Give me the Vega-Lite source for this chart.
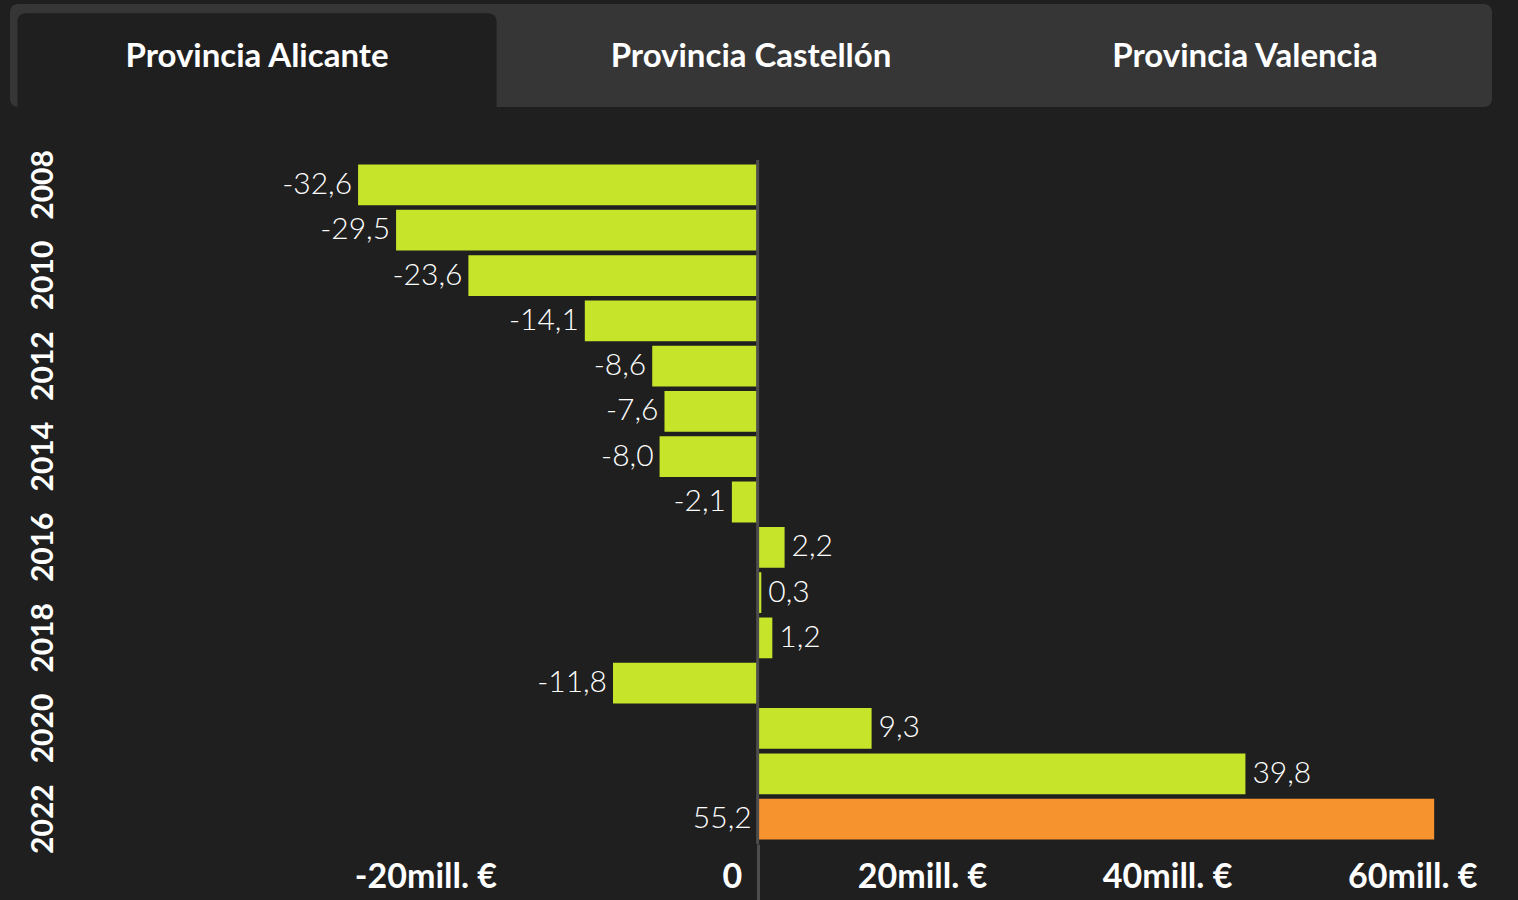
{
  "$schema": "https://vega.github.io/schema/vega-lite/v6.json",
  "background": "#1f1f1f",
  "padding": {"left": 10, "top": 4, "right": 25, "bottom": 0},
  "bounds": "flush",
  "spacing": 53,
  "config": {
    "view": {"stroke": null},
    "font": "Lato",
    "locale": {"number": {"decimal": ",", "thousands": ".", "grouping": [3], "currency": ["", " €"], "minus": "-"}}
  },
  "datasets": {
    "tabs": [
      {"tab": "Provincia Alicante", "selected": true},
      {"tab": "Provincia Castellón", "selected": false},
      {"tab": "Provincia Valencia", "selected": false}
    ],
    "saldo": [
      {"year": 2008, "value": -32.6, "highlight": false},
      {"year": 2009, "value": -29.5, "highlight": false},
      {"year": 2010, "value": -23.6, "highlight": false},
      {"year": 2011, "value": -14.1, "highlight": false},
      {"year": 2012, "value": -8.6, "highlight": false},
      {"year": 2013, "value": -7.6, "highlight": false},
      {"year": 2014, "value": -8.0, "highlight": false},
      {"year": 2015, "value": -2.1, "highlight": false},
      {"year": 2016, "value": 2.2, "highlight": false},
      {"year": 2017, "value": 0.3, "highlight": false},
      {"year": 2018, "value": 1.2, "highlight": false},
      {"year": 2019, "value": -11.8, "highlight": false},
      {"year": 2020, "value": 9.3, "highlight": false},
      {"year": 2021, "value": 39.8, "highlight": false},
      {"year": 2022, "value": 55.2, "highlight": true}
    ]
  },
  "vconcat": [
    {
      "width": 1482,
      "height": 103,
      "data": {"name": "tabs"},
      "view": {"fill": "#363636", "cornerRadius": 8, "stroke": null},
      "encoding": {
        "x": {"field": "tab", "type": "nominal", "sort": null, "scale": {"paddingInner": 0, "paddingOuter": 0}, "axis": null}
      },
      "layer": [
        {
          "transform": [{"filter": "datum.selected"}],
          "mark": {"type": "bar", "color": "#1f1f1f", "cornerRadiusTopLeft": 8, "cornerRadiusTopRight": 8, "width": {"band": 0.97}},
          "encoding": {
            "y": {"datum": 0, "type": "quantitative", "scale": {"domain": [0, 1], "nice": false}, "axis": null},
            "y2": {"datum": 0.91}
          }
        },
        {
          "mark": {"type": "text", "color": "white", "fontSize": 33, "fontWeight": "bold", "baseline": "middle", "dy": 1},
          "encoding": {"text": {"field": "tab"}}
        }
      ]
    },
    {
      "width": 1483,
      "height": 684,
      "data": {"name": "saldo"},
      "layer": [
        {
          "mark": {"type": "bar"},
          "encoding": {
            "y": {
              "field": "year", "type": "ordinal", "sort": "ascending",
              "scale": {"paddingInner": 0.1, "paddingOuter": 0.1},
              "axis": {
                "values": [2008, 2010, 2012, 2014, 2016, 2018, 2020, 2022],
                "labelAngle": 270, "labelAlign": "center", "labelBaseline": "bottom",
                "offset": -48, "labelPadding": 0, "ticks": false, "domain": false, "grid": false,
                "labelFontSize": 30, "labelFontWeight": "bold", "labelColor": "white",
                "labelOverlap": false, "title": null
              }
            },
            "x": {
              "field": "value", "type": "quantitative",
              "scale": {"domain": [-61, 60], "nice": false, "zero": false},
              "axis": {
                "values": [-20, 0, 20, 40, 60],
                "labelExpr": "datum.value === 0 ? '0' : datum.value + 'mill. €'",
                "domain": false, "grid": false, "ticks": true, "tickSize": 58, "tickWidth": 3,
                "tickColor": {"condition": {"test": "datum.value === 0", "value": "#4d4d4d"}, "value": "rgba(0,0,0,0)"},
                "labelAlign": "right", "labelOffset": -16, "labelPadding": -25, "labelBaseline": "middle",
                "labelFontSize": 34, "labelFontWeight": "bold", "labelColor": "white",
                "labelFlush": false, "labelOverlap": false, "title": null
              }
            },
            "color": {"field": "highlight", "type": "nominal", "scale": {"domain": [false, true], "range": ["#c6e42a", "#f7932f"]}, "legend": null}
          }
        },
        {
          "data": {"values": [{"zero": 0}]},
          "mark": {"type": "rule", "color": "#4d4d4d", "strokeWidth": 3},
          "encoding": {"x": {"field": "zero", "type": "quantitative"}}
        },
        {
          "transform": [{"filter": "datum.value < 0 && !datum.highlight"}],
          "mark": {"type": "text", "align": "right", "baseline": "middle", "dx": -6, "fontSize": 30, "fontWeight": 300, "color": "white"},
          "encoding": {
            "y": {"field": "year", "type": "ordinal"},
            "x": {"field": "value", "type": "quantitative"},
            "text": {"field": "value", "type": "quantitative", "format": ".1f"}
          }
        },
        {
          "transform": [{"filter": "datum.value >= 0 && !datum.highlight"}],
          "mark": {"type": "text", "align": "left", "baseline": "middle", "dx": 7, "fontSize": 30, "fontWeight": 300, "color": "white"},
          "encoding": {
            "y": {"field": "year", "type": "ordinal"},
            "x": {"field": "value", "type": "quantitative"},
            "text": {"field": "value", "type": "quantitative", "format": ".1f"}
          }
        },
        {
          "transform": [{"filter": "datum.highlight"}],
          "mark": {"type": "text", "align": "right", "baseline": "middle", "dx": -6, "fontSize": 30, "fontWeight": 300, "color": "white"},
          "encoding": {
            "y": {"field": "year", "type": "ordinal"},
            "x": {"datum": 0, "type": "quantitative"},
            "text": {"field": "value", "type": "quantitative", "format": ".1f"}
          }
        }
      ]
    }
  ]
}
